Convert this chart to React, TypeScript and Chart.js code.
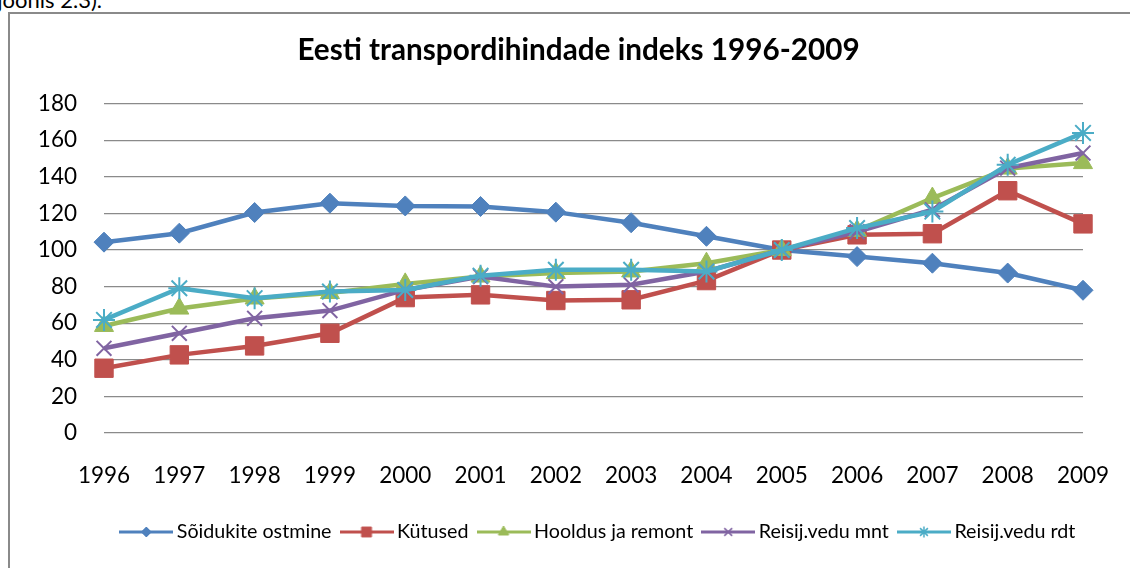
import React, { useEffect, useRef } from 'react';
import { Chart, registerables } from 'chart.js';
import { drawPoint } from 'chart.js/helpers';

Chart.register(...registerables);

const TITLE = 'Eesti transpordihindade indeks 1996-2009';
const CAPTION = '(joonis 2.3).';

const years = ['1996', '1997', '1998', '1999', '2000', '2001', '2002', '2003', '2004', '2005', '2006', '2007', '2008', '2009'];

const seriesNames = ['Sõidukite ostmine', 'Kütused', 'Hooldus ja remont', 'Reisij.vedu mnt', 'Reisij.vedu rdt'];

const soidukiteOstmine = [104.3, 109.2, 120.5, 125.6, 124.1, 123.8, 120.7, 114.9, 107.5, 100, 96.4, 92.8, 87.4, 78.0];
const kytused = [35.4, 42.7, 47.6, 54.5, 74.0, 75.5, 72.4, 72.8, 83.3, 100, 108.3, 108.9, 132.4, 114.3];
const hooldusJaRemont = [58.5, 68.0, 73.5, 76.5, 81.5, 85.5, 87.4, 88.3, 92.8, 100, 110.5, 128.4, 144.5, 147.5];
const reisijVeduMnt = [46.3, 54.5, 62.7, 66.9, 78.2, 85.5, 80.0, 81.0, 88.3, 100, 110.0, 122.0, 144.8, 153.0];
const reisijVeduRdt = [61.8, 79.1, 73.7, 77.3, 78.2, 86.0, 89.2, 89.2, 88.3, 100, 112.0, 121.0, 146.6, 164.0];

const Y_MIN = 0;
const Y_MAX = 180;
const Y_STEP = 20;

const seriesValues = [soidukiteOstmine, kytused, hooldusJaRemont, reisijVeduMnt, reisijVeduRdt];

// styles
const colors = ['#4F81BD', '#C0504D', '#9BBB59', '#8064A2', '#4BACC6'];
const markerStyles = ['rectRot', 'rect', 'triangle', 'crossRot', 'star'];
const markerRadius = [10, 13, 11, 10.5, 11];
const markerBorder = [1, 1, 1, 2, 2];
const legendMarkerRadius = [5, 7, 6, 5.5, 5.5];

const FONT = 'Lato, "Open Sans", "DejaVu Sans", sans-serif';

function makeSwatch(i: number): HTMLCanvasElement {
  const c = document.createElement('canvas');
  c.width = 54;
  c.height = 16;
  const ctx = c.getContext('2d')!;
  ctx.strokeStyle = colors[i];
  ctx.lineWidth = 3;
  ctx.beginPath();
  ctx.moveTo(0, 8);
  ctx.lineTo(54, 8);
  ctx.stroke();
  ctx.fillStyle = colors[i];
  ctx.strokeStyle = colors[i];
  ctx.lineWidth = markerBorder[i] > 1 ? 1.5 : 1;
  drawPoint(ctx, { pointStyle: markerStyles[i], radius: legendMarkerRadius[i], rotation: 0, borderWidth: 1 } as any, 27, 8);
  return c;
}

const legendShift = {
  id: 'legendShift',
  afterLayout(chart: any) {
    const lg = chart.legend;
    if (lg) {
      lg.left += 7;
      lg.right += 7;
    }
  },
};

export default function App() {
  const canvasRef = useRef<HTMLCanvasElement | null>(null);

  useEffect(() => {
    const canvas = canvasRef.current;
    if (!canvas) return;
    const swatches = seriesNames.map((_, i) => makeSwatch(i));

    const chart = new Chart(canvas, {
      type: 'line',
      data: {
        labels: years,
        datasets: seriesNames.map((name, i) => ({
          label: name,
          data: seriesValues[i],
          borderColor: colors[i],
          backgroundColor: colors[i],
          borderWidth: 4.5,
          pointStyle: markerStyles[i] as any,
          pointRadius: markerRadius[i],
          pointHoverRadius: markerRadius[i],
          pointBackgroundColor: colors[i],
          pointBorderColor: colors[i],
          pointBorderWidth: markerBorder[i],
          tension: 0,
          fill: false,
          clip: false as any,
          order: seriesNames.length - i,
        })),
      },
      plugins: [legendShift],
      options: {
        responsive: false,
        animation: false,
        devicePixelRatio: 1,
        layout: { padding: { left: 27, right: 0, top: 0, bottom: 16.15 } },
        scales: {
          x: {
            type: 'category',
            offset: false,
            grid: { display: false, drawTicks: false },
            border: { display: false },
            ticks: {
              color: '#000',
              font: { family: FONT, size: 22.5 },
              padding: 29,
              maxRotation: 0,
              autoSkip: false,
            },
            afterFit: (scale: any) => {
              scale.height = 74.8;
              scale.paddingLeft = 0;
              scale.paddingRight = 0;
            },
          },
          y: {
            type: 'linear',
            position: 'left',
            min: Y_MIN,
            max: Y_MAX,
            grid: { color: '#8a8a8a', lineWidth: 1.3, drawTicks: false },
            border: { display: false },
            ticks: {
              stepSize: Y_STEP,
              color: '#000',
              font: { family: FONT, size: 22.5 },
              padding: 27,
              crossAlign: 'near',
            },
            afterFit: (scale: any) => {
              scale.width = 77;
            },
          },
          yRight: {
            type: 'linear',
            position: 'right',
            display: true,
            grid: { display: false, drawTicks: false },
            border: { display: false },
            ticks: { display: false },
            afterFit: (scale: any) => {
              scale.width = 47;
            },
          },
        },
        plugins: {
          title: {
            display: true,
            text: TITLE,
            color: '#000',
            font: { family: FONT, size: 29.7, weight: 'bold' },
            padding: { top: 33, bottom: 35 },
          },
          legend: {
            display: true,
            position: 'bottom',
            fullSize: false,
            labels: {
              usePointStyle: true,
              pointStyleWidth: 41.3,
              padding: 14.35,
              color: '#000',
              font: { family: FONT, size: 19.7 },
              generateLabels: () =>
                seriesNames.map((name, i) => ({
                  text: name,
                  fillStyle: colors[i],
                  strokeStyle: colors[i],
                  fontColor: '#000',
                  lineWidth: 0,
                  pointStyle: swatches[i] as any,
                  hidden: false,
                  datasetIndex: i,
                })),
            },
          },
          tooltip: { enabled: false },
        },
      } as any,
    });

    return () => {
      chart.destroy();
    };
  }, []);

  return (
    <div style={{ position: 'fixed', left: 0, top: 0, width: 1130, height: 568, overflow: 'hidden', background: '#fff' }}>
      <div
        style={{
          position: 'absolute',
          left: -200,
          top: -13,
          width: 302,
          textAlign: 'right',
          fontFamily: FONT,
          fontSize: 22,
          lineHeight: 1.2,
          color: '#000',
          whiteSpace: 'nowrap',
        }}
      >
        {CAPTION}
      </div>
      <div
        style={{
          position: 'absolute',
          left: 8,
          top: 12,
          width: 1160,
          height: 620,
          border: '2px solid #8a8a8a',
          boxSizing: 'border-box',
        }}
      />
      <canvas ref={canvasRef} width={1130} height={568} style={{ position: 'absolute', left: 0, top: 0, display: 'block' }} />
    </div>
  );
}
